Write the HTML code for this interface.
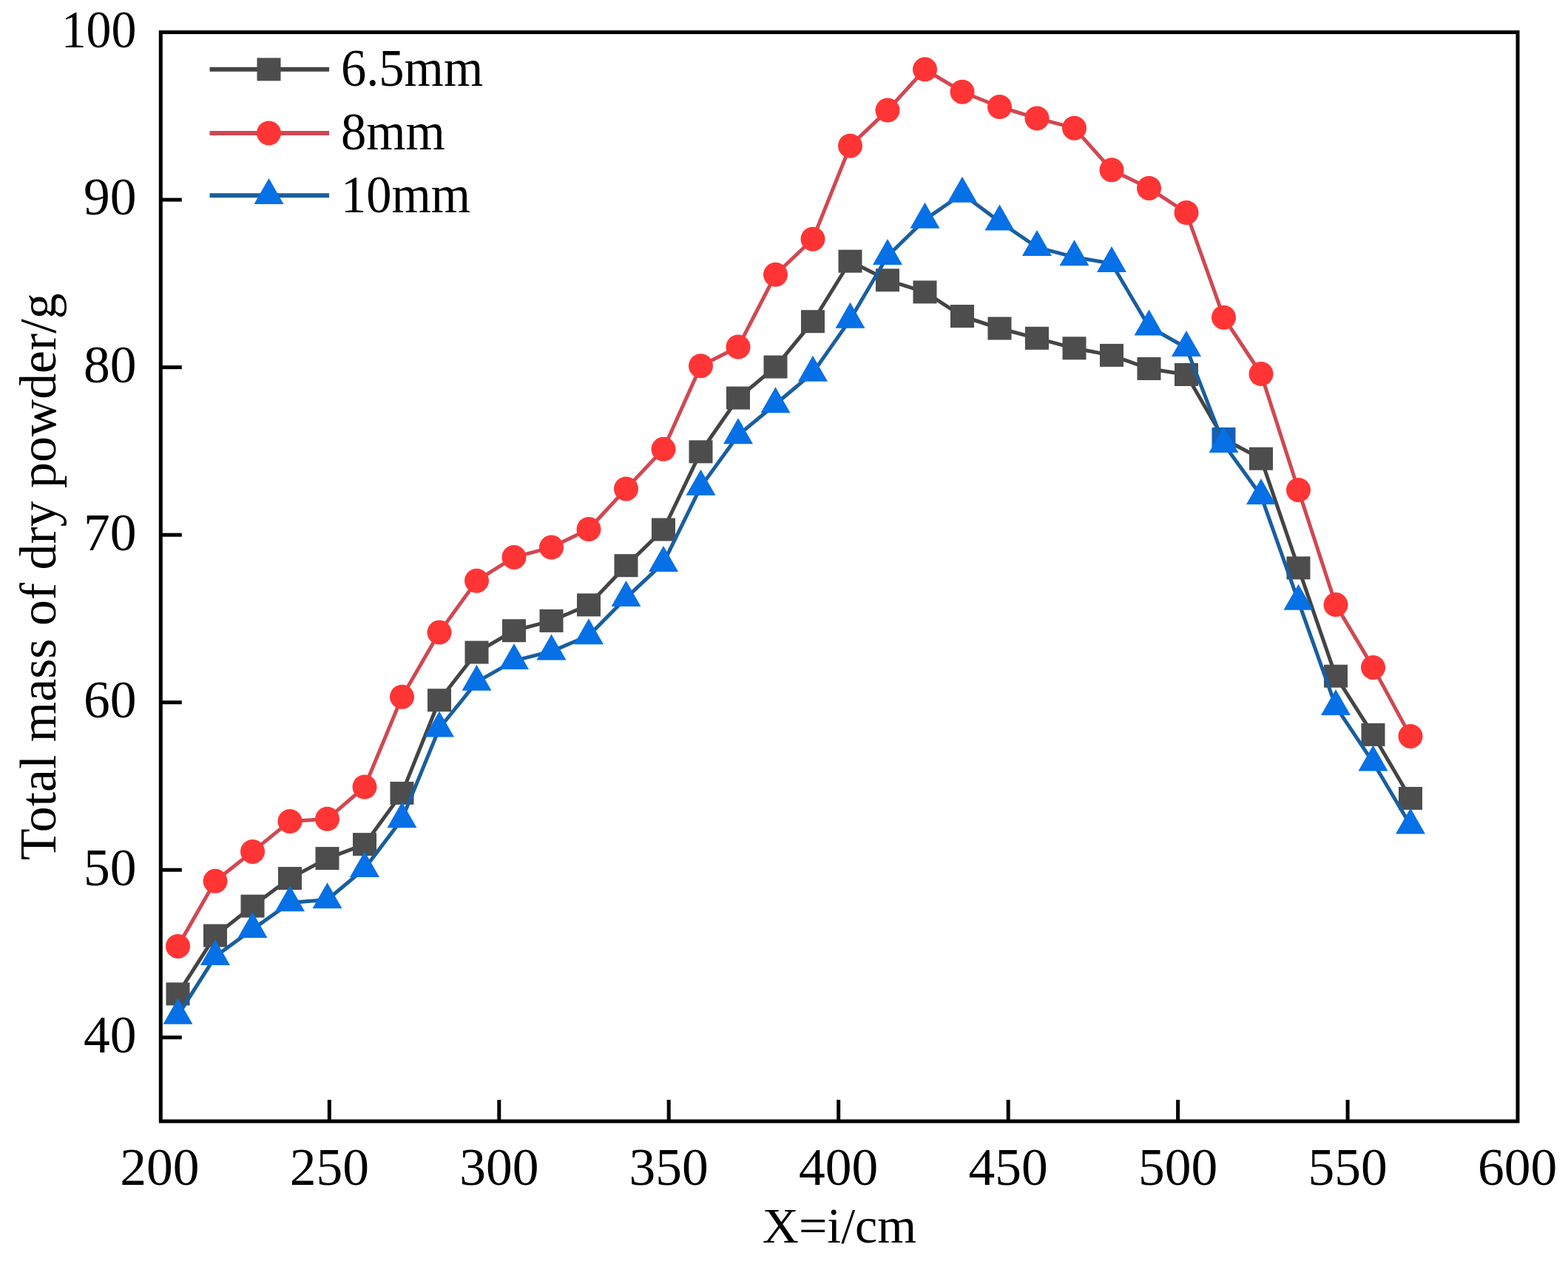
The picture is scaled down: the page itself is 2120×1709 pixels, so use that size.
<!DOCTYPE html>
<html><head><meta charset="utf-8"><title>Total mass of dry powder</title>
<style>html,body{margin:0;padding:0;background:#fff;}svg{display:block;}</style>
</head><body>
<svg width="2120" height="1709" viewBox="0 0 2120 1709"><rect x="0" y="0" width="2120" height="1709" fill="#fff"/>
<polyline points="240.5,1343.9 291.0,1265.0 341.5,1225.1 392.0,1187.6 442.5,1160.6 493.0,1141.6 543.5,1072.4 594.0,946.7 644.5,882.0 695.0,852.7 745.5,839.4 796.0,817.9 846.5,764.7 897.0,716.0 947.5,610.8 998.0,538.1 1048.5,496.1 1099.0,434.7 1149.5,353.2 1200.0,378.8 1250.5,394.9 1301.0,427.5 1351.5,444.0 1402.0,457.3 1452.5,470.8 1503.0,480.4 1553.5,498.5 1604.0,506.5 1654.5,593.5 1705.0,620.2 1755.5,767.9 1806.0,914.2 1856.5,993.4 1907.0,1079.4" fill="none" stroke="#444444" stroke-width="5" stroke-linejoin="round"/>
<rect x="224.5" y="1328.4" width="32.0" height="31.0" fill="#4d4d4d"/>
<rect x="275.0" y="1249.5" width="32.0" height="31.0" fill="#4d4d4d"/>
<rect x="325.5" y="1209.6" width="32.0" height="31.0" fill="#4d4d4d"/>
<rect x="376.0" y="1172.1" width="32.0" height="31.0" fill="#4d4d4d"/>
<rect x="426.5" y="1145.1" width="32.0" height="31.0" fill="#4d4d4d"/>
<rect x="477.0" y="1126.1" width="32.0" height="31.0" fill="#4d4d4d"/>
<rect x="527.5" y="1056.9" width="32.0" height="31.0" fill="#4d4d4d"/>
<rect x="578.0" y="931.2" width="32.0" height="31.0" fill="#4d4d4d"/>
<rect x="628.5" y="866.5" width="32.0" height="31.0" fill="#4d4d4d"/>
<rect x="679.0" y="837.2" width="32.0" height="31.0" fill="#4d4d4d"/>
<rect x="729.5" y="823.9" width="32.0" height="31.0" fill="#4d4d4d"/>
<rect x="780.0" y="802.4" width="32.0" height="31.0" fill="#4d4d4d"/>
<rect x="830.5" y="749.2" width="32.0" height="31.0" fill="#4d4d4d"/>
<rect x="881.0" y="700.5" width="32.0" height="31.0" fill="#4d4d4d"/>
<rect x="931.5" y="595.3" width="32.0" height="31.0" fill="#4d4d4d"/>
<rect x="982.0" y="522.6" width="32.0" height="31.0" fill="#4d4d4d"/>
<rect x="1032.5" y="480.6" width="32.0" height="31.0" fill="#4d4d4d"/>
<rect x="1083.0" y="419.2" width="32.0" height="31.0" fill="#4d4d4d"/>
<rect x="1133.5" y="337.7" width="32.0" height="31.0" fill="#4d4d4d"/>
<rect x="1184.0" y="363.3" width="32.0" height="31.0" fill="#4d4d4d"/>
<rect x="1234.5" y="379.4" width="32.0" height="31.0" fill="#4d4d4d"/>
<rect x="1285.0" y="412.0" width="32.0" height="31.0" fill="#4d4d4d"/>
<rect x="1335.5" y="428.5" width="32.0" height="31.0" fill="#4d4d4d"/>
<rect x="1386.0" y="441.8" width="32.0" height="31.0" fill="#4d4d4d"/>
<rect x="1436.5" y="455.3" width="32.0" height="31.0" fill="#4d4d4d"/>
<rect x="1487.0" y="464.9" width="32.0" height="31.0" fill="#4d4d4d"/>
<rect x="1537.5" y="483.0" width="32.0" height="31.0" fill="#4d4d4d"/>
<rect x="1588.0" y="491.0" width="32.0" height="31.0" fill="#4d4d4d"/>
<rect x="1638.5" y="578.0" width="32.0" height="31.0" fill="#1560b8"/>
<rect x="1689.0" y="604.7" width="32.0" height="31.0" fill="#4d4d4d"/>
<rect x="1739.5" y="752.4" width="32.0" height="31.0" fill="#4d4d4d"/>
<rect x="1790.0" y="898.7" width="32.0" height="31.0" fill="#4d4d4d"/>
<rect x="1840.5" y="977.9" width="32.0" height="31.0" fill="#4d4d4d"/>
<rect x="1891.0" y="1063.9" width="32.0" height="31.0" fill="#4d4d4d"/>
<polyline points="240.5,1279.4 291.0,1191.3 341.5,1151.4 392.0,1110.4 442.5,1107.3 493.0,1064.0 543.5,942.2 594.0,855.1 644.5,785.2 695.0,753.4 745.5,740.1 796.0,715.5 846.5,660.9 897.0,607.3 947.5,494.7 998.0,469.1 1048.5,371.3 1099.0,323.2 1149.5,197.2 1200.0,149.1 1250.5,93.8 1301.0,124.2 1351.5,144.5 1402.0,159.9 1452.5,173.2 1503.0,229.8 1553.5,254.4 1604.0,287.5 1654.5,429.2 1705.0,505.5 1755.5,662.5 1806.0,817.6 1856.5,902.4 1907.0,995.4" fill="none" stroke="#d04852" stroke-width="5" stroke-linejoin="round"/>
<circle cx="240.5" cy="1279.4" r="16.5" fill="#ff3535"/>
<circle cx="291.0" cy="1191.3" r="16.5" fill="#ff3535"/>
<circle cx="341.5" cy="1151.4" r="16.5" fill="#ff3535"/>
<circle cx="392.0" cy="1110.4" r="16.5" fill="#ff3535"/>
<circle cx="442.5" cy="1107.3" r="16.5" fill="#ff3535"/>
<circle cx="493.0" cy="1064.0" r="16.5" fill="#ff3535"/>
<circle cx="543.5" cy="942.2" r="16.5" fill="#ff3535"/>
<circle cx="594.0" cy="855.1" r="16.5" fill="#ff3535"/>
<circle cx="644.5" cy="785.2" r="16.5" fill="#ff3535"/>
<circle cx="695.0" cy="753.4" r="16.5" fill="#ff3535"/>
<circle cx="745.5" cy="740.1" r="16.5" fill="#ff3535"/>
<circle cx="796.0" cy="715.5" r="16.5" fill="#ff3535"/>
<circle cx="846.5" cy="660.9" r="16.5" fill="#ff3535"/>
<circle cx="897.0" cy="607.3" r="16.5" fill="#ff3535"/>
<circle cx="947.5" cy="494.7" r="16.5" fill="#ff3535"/>
<circle cx="998.0" cy="469.1" r="16.5" fill="#ff3535"/>
<circle cx="1048.5" cy="371.3" r="16.5" fill="#ff3535"/>
<circle cx="1099.0" cy="323.2" r="16.5" fill="#ff3535"/>
<circle cx="1149.5" cy="197.2" r="16.5" fill="#ff3535"/>
<circle cx="1200.0" cy="149.1" r="16.5" fill="#ff3535"/>
<circle cx="1250.5" cy="93.8" r="16.5" fill="#ff3535"/>
<circle cx="1301.0" cy="124.2" r="16.5" fill="#ff3535"/>
<circle cx="1351.5" cy="144.5" r="16.5" fill="#ff3535"/>
<circle cx="1402.0" cy="159.9" r="16.5" fill="#ff3535"/>
<circle cx="1452.5" cy="173.2" r="16.5" fill="#ff3535"/>
<circle cx="1503.0" cy="229.8" r="16.5" fill="#ff3535"/>
<circle cx="1553.5" cy="254.4" r="16.5" fill="#ff3535"/>
<circle cx="1604.0" cy="287.5" r="16.5" fill="#ff3535"/>
<circle cx="1654.5" cy="429.2" r="16.5" fill="#ff3535"/>
<circle cx="1705.0" cy="505.5" r="16.5" fill="#ff3535"/>
<circle cx="1755.5" cy="662.5" r="16.5" fill="#ff3535"/>
<circle cx="1806.0" cy="817.6" r="16.5" fill="#ff3535"/>
<circle cx="1856.5" cy="902.4" r="16.5" fill="#ff3535"/>
<circle cx="1907.0" cy="995.4" r="16.5" fill="#ff3535"/>
<polyline points="240.5,1373.1 291.0,1293.3 341.5,1256.4 392.0,1220.6 442.5,1216.5 493.0,1174.3 543.5,1107.6 594.0,984.7 644.5,922.1 695.0,893.4 745.5,880.7 796.0,859.5 846.5,808.3 897.0,761.2 947.5,658.1 998.0,588.5 1048.5,546.5 1099.0,504.1 1149.5,432.1 1200.0,346.2 1250.5,297.0 1301.0,262.0 1351.5,299.8 1402.0,334.3 1452.5,347.6 1503.0,356.3 1553.5,441.7 1604.0,470.3 1654.5,600.3 1705.0,670.3 1755.5,813.1 1806.0,955.2 1856.5,1030.8 1907.0,1115.8" fill="none" stroke="#1a5e9e" stroke-width="5" stroke-linejoin="round"/>
<polygon points="240.5,1349.8 260.5,1384.8 220.5,1384.8" fill="#0670e6"/>
<polygon points="291.0,1270.0 311.0,1305.0 271.0,1305.0" fill="#0670e6"/>
<polygon points="341.5,1233.1 361.5,1268.1 321.5,1268.1" fill="#0670e6"/>
<polygon points="392.0,1197.3 412.0,1232.3 372.0,1232.3" fill="#0670e6"/>
<polygon points="442.5,1193.2 462.5,1228.2 422.5,1228.2" fill="#0670e6"/>
<polygon points="493.0,1151.0 513.0,1186.0 473.0,1186.0" fill="#0670e6"/>
<polygon points="543.5,1084.3 563.5,1119.3 523.5,1119.3" fill="#0670e6"/>
<polygon points="594.0,961.4 614.0,996.4 574.0,996.4" fill="#0670e6"/>
<polygon points="644.5,898.8 664.5,933.8 624.5,933.8" fill="#0670e6"/>
<polygon points="695.0,870.1 715.0,905.1 675.0,905.1" fill="#0670e6"/>
<polygon points="745.5,857.4 765.5,892.4 725.5,892.4" fill="#0670e6"/>
<polygon points="796.0,836.2 816.0,871.2 776.0,871.2" fill="#0670e6"/>
<polygon points="846.5,785.0 866.5,820.0 826.5,820.0" fill="#0670e6"/>
<polygon points="897.0,737.9 917.0,772.9 877.0,772.9" fill="#0670e6"/>
<polygon points="947.5,634.8 967.5,669.8 927.5,669.8" fill="#0670e6"/>
<polygon points="998.0,565.2 1018.0,600.2 978.0,600.2" fill="#0670e6"/>
<polygon points="1048.5,523.2 1068.5,558.2 1028.5,558.2" fill="#0670e6"/>
<polygon points="1099.0,480.8 1119.0,515.8 1079.0,515.8" fill="#0670e6"/>
<polygon points="1149.5,408.8 1169.5,443.8 1129.5,443.8" fill="#0670e6"/>
<polygon points="1200.0,322.9 1220.0,357.9 1180.0,357.9" fill="#0670e6"/>
<polygon points="1250.5,273.7 1270.5,308.7 1230.5,308.7" fill="#0670e6"/>
<polygon points="1301.0,238.7 1321.0,273.7 1281.0,273.7" fill="#0670e6"/>
<polygon points="1351.5,276.5 1371.5,311.5 1331.5,311.5" fill="#0670e6"/>
<polygon points="1402.0,311.0 1422.0,346.0 1382.0,346.0" fill="#0670e6"/>
<polygon points="1452.5,324.3 1472.5,359.3 1432.5,359.3" fill="#0670e6"/>
<polygon points="1503.0,333.0 1523.0,368.0 1483.0,368.0" fill="#0670e6"/>
<polygon points="1553.5,418.4 1573.5,453.4 1533.5,453.4" fill="#0670e6"/>
<polygon points="1604.0,447.0 1624.0,482.0 1584.0,482.0" fill="#0670e6"/>
<polygon points="1654.5,577.0 1674.5,612.0 1634.5,612.0" fill="#0670e6"/>
<polygon points="1705.0,647.0 1725.0,682.0 1685.0,682.0" fill="#0670e6"/>
<polygon points="1755.5,789.8 1775.5,824.8 1735.5,824.8" fill="#0670e6"/>
<polygon points="1806.0,931.9 1826.0,966.9 1786.0,966.9" fill="#0670e6"/>
<polygon points="1856.5,1007.5 1876.5,1042.5 1836.5,1042.5" fill="#0670e6"/>
<polygon points="1907.0,1092.5 1927.0,1127.5 1887.0,1127.5" fill="#0670e6"/>
<rect x="217.3" y="43.6" width="1834.7" height="1472.4" fill="none" stroke="#000" stroke-width="5"/>
<line x1="217.3" y1="1402.7" x2="245.8" y2="1402.7" stroke="#000" stroke-width="5"/>
<line x1="217.3" y1="1176.2" x2="245.8" y2="1176.2" stroke="#000" stroke-width="5"/>
<line x1="217.3" y1="949.7" x2="245.8" y2="949.7" stroke="#000" stroke-width="5"/>
<line x1="217.3" y1="723.2" x2="245.8" y2="723.2" stroke="#000" stroke-width="5"/>
<line x1="217.3" y1="496.6" x2="245.8" y2="496.6" stroke="#000" stroke-width="5"/>
<line x1="217.3" y1="270.1" x2="245.8" y2="270.1" stroke="#000" stroke-width="5"/>
<line x1="445.3" y1="1516.0" x2="445.3" y2="1487.0" stroke="#000" stroke-width="5"/>
<line x1="674.8" y1="1516.0" x2="674.8" y2="1487.0" stroke="#000" stroke-width="5"/>
<line x1="904.2" y1="1516.0" x2="904.2" y2="1487.0" stroke="#000" stroke-width="5"/>
<line x1="1133.7" y1="1516.0" x2="1133.7" y2="1487.0" stroke="#000" stroke-width="5"/>
<line x1="1363.2" y1="1516.0" x2="1363.2" y2="1487.0" stroke="#000" stroke-width="5"/>
<line x1="1592.6" y1="1516.0" x2="1592.6" y2="1487.0" stroke="#000" stroke-width="5"/>
<line x1="1822.1" y1="1516.0" x2="1822.1" y2="1487.0" stroke="#000" stroke-width="5"/>
<text transform="translate(184.5,1423.0) scale(1,1)" text-anchor="end" font-family="'Liberation Serif','Times New Roman',serif" font-size="71.5">40</text>
<text transform="translate(184.5,1196.5) scale(1,1)" text-anchor="end" font-family="'Liberation Serif','Times New Roman',serif" font-size="71.5">50</text>
<text transform="translate(184.5,970.0) scale(1,1)" text-anchor="end" font-family="'Liberation Serif','Times New Roman',serif" font-size="71.5">60</text>
<text transform="translate(184.5,743.5) scale(1,1)" text-anchor="end" font-family="'Liberation Serif','Times New Roman',serif" font-size="71.5">70</text>
<text transform="translate(184.5,516.9) scale(1,1)" text-anchor="end" font-family="'Liberation Serif','Times New Roman',serif" font-size="71.5">80</text>
<text transform="translate(184.5,290.4) scale(1,1)" text-anchor="end" font-family="'Liberation Serif','Times New Roman',serif" font-size="71.5">90</text>
<text transform="translate(184.5,63.9) scale(0.95,1)" text-anchor="end" font-family="'Liberation Serif','Times New Roman',serif" font-size="71.5">100</text>
<text x="215.8" y="1602" text-anchor="middle" font-family="'Liberation Serif','Times New Roman',serif" font-size="71.5">200</text>
<text x="445.3" y="1602" text-anchor="middle" font-family="'Liberation Serif','Times New Roman',serif" font-size="71.5">250</text>
<text x="674.8" y="1602" text-anchor="middle" font-family="'Liberation Serif','Times New Roman',serif" font-size="71.5">300</text>
<text x="904.2" y="1602" text-anchor="middle" font-family="'Liberation Serif','Times New Roman',serif" font-size="71.5">350</text>
<text x="1133.7" y="1602" text-anchor="middle" font-family="'Liberation Serif','Times New Roman',serif" font-size="71.5">400</text>
<text x="1363.2" y="1602" text-anchor="middle" font-family="'Liberation Serif','Times New Roman',serif" font-size="71.5">450</text>
<text x="1592.6" y="1602" text-anchor="middle" font-family="'Liberation Serif','Times New Roman',serif" font-size="71.5">500</text>
<text x="1822.1" y="1602" text-anchor="middle" font-family="'Liberation Serif','Times New Roman',serif" font-size="71.5">550</text>
<text x="2051.6" y="1602" text-anchor="middle" font-family="'Liberation Serif','Times New Roman',serif" font-size="71.5">600</text>
<text x="1135" y="1680" text-anchor="middle" font-family="'Liberation Serif','Times New Roman',serif" font-size="68">X=i/cm</text>
<text transform="translate(75.3,1163) rotate(-90)" x="0" y="0" font-family="'Liberation Serif','Times New Roman',serif" font-size="69.8">Total mass of dry powder/g</text>
<line x1="283.5" y1="93.8" x2="445" y2="93.8" stroke="#444444" stroke-width="6"/>
<rect x="347.5" y="78.3" width="32.0" height="31.0" fill="#4d4d4d"/>
<text transform="translate(461,116.1) scale(1,1.04)" font-family="'Liberation Serif','Times New Roman',serif" font-size="68.5">6.5mm</text>
<line x1="283.5" y1="180.0" x2="445" y2="180.0" stroke="#d04852" stroke-width="6"/>
<circle cx="363.5" cy="180.0" r="16.5" fill="#ff3535"/>
<text transform="translate(461,202.3) scale(1,1.04)" font-family="'Liberation Serif','Times New Roman',serif" font-size="68.5">8mm</text>
<line x1="283.5" y1="264.3" x2="445" y2="264.3" stroke="#1a5e9e" stroke-width="6"/>
<polygon points="363.5,241.0 383.5,276.0 343.5,276.0" fill="#0670e6"/>
<text transform="translate(461,286.6) scale(1,1.04)" font-family="'Liberation Serif','Times New Roman',serif" font-size="68.5">10mm</text></svg>
</body></html>
